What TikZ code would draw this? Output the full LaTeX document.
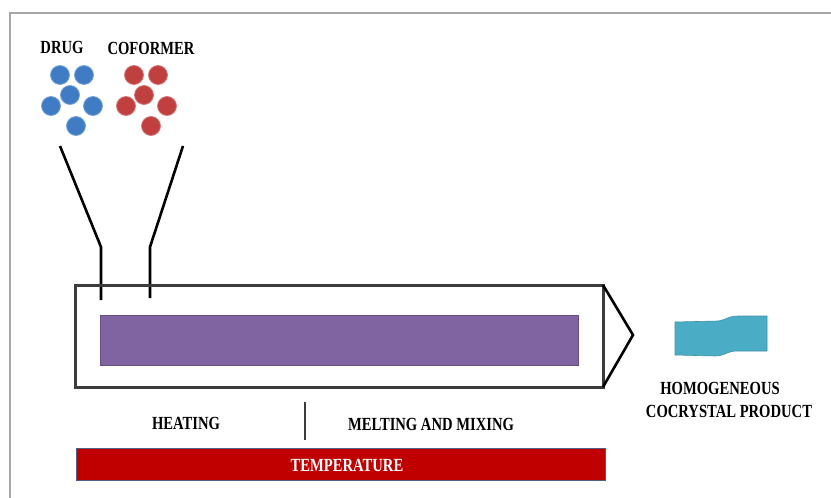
\documentclass[tikz,border=0pt]{standalone}
\usepackage{fontspec}
\setmainfont{Liberation Serif}
\begin{document}
\begin{tikzpicture}[x=1pt,y=-1pt,
  lbl/.style={font=\bfseries\fontsize{18.5}{20}\selectfont, text=black, inner sep=0pt, xscale=0.79},
  drugdot/.style={circle, fill=drugblue, draw=drugblue!70!white, line width=0.8pt, minimum size=19pt, inner sep=0pt},
  cofdot/.style={circle, fill=cofred, draw=cofred!70!white, line width=0.8pt, minimum size=19pt, inner sep=0pt},
  funnel/.style={line width=2.6pt, draw=black},
  barrel/.style={line width=3pt, draw=barrelgray, line join=miter}
]
\definecolor{drugblue}{HTML}{3F7CC4}
\definecolor{cofred}{HTML}{C0403F}
\definecolor{purplebar}{HTML}{8064A2}
\definecolor{redbar}{HTML}{C00000}
\definecolor{framegray}{HTML}{A6A6A6}
\definecolor{barrelgray}{HTML}{3C3C3C}
\definecolor{prodcyan}{HTML}{4BACC6}
\definecolor{tempborder}{HTML}{4F5F8A}
\useasboundingbox (0,0) rectangle (831,498);
% outer frame (top and left only)
\coordinate (fTL) at (10,13);
\coordinate (fTR) at (831,13);
\coordinate (fBL) at (10,498);
\draw[framegray, line width=2pt] (fBL) -- (fTL) -- (fTR);
% labels
\node[lbl] (drug) at (62,47) {DRUG};
\node[lbl] (cof) at (151,48) {COFORMER};
% drug particles
\node[drugdot] (d1) at (60,75) {};
\node[drugdot] (d2) at (84,75) {};
\node[drugdot] (d3) at (70,95) {};
\node[drugdot] (d4) at (51,106) {};
\node[drugdot] (d5) at (93,106) {};
\node[drugdot] (d6) at (76,126) {};
% coformer particles
\node[cofdot] (c1) at (134,75) {};
\node[cofdot] (c2) at (158,75) {};
\node[cofdot] (c3) at (144,95) {};
\node[cofdot] (c4) at (126,106) {};
\node[cofdot] (c5) at (167,106) {};
\node[cofdot] (c6) at (151,126) {};
% funnels
\coordinate (fl1) at (60,146);
\coordinate (fl2) at (101,247);
\coordinate (fl3) at (101,300);
\coordinate (fr1) at (183,146);
\coordinate (fr2) at (150,247);
\coordinate (fr3) at (150,298);
\draw[funnel] (fl1) -- (fl2) -- (fl3);
\draw[funnel] (fr1) -- (fr2) -- (fr3);
% barrel
\coordinate (bTL) at (75,285);
\coordinate (bTR) at (603,285);
\coordinate (bBR) at (603,387);
\coordinate (bBL) at (75,387);
\coordinate (tip) at (633,335);
\draw[barrel] (bTR) -- (bTL) -- (bBL) -- (bBR) -- cycle;
\draw[line width=2.6pt, black, line join=miter] (bTR) -- (tip) -- (bBR);
% purple screw bar
\node[fill=purplebar, draw=purplebar!80!black, line width=0.6pt, minimum width=478pt, minimum height=50pt, inner sep=0pt, anchor=north west] (screw) at (100,315) {};
% product
\fill[prodcyan, draw=prodcyan!85!black, line width=0.6pt] (675,322) -- (718,321) .. controls (726,320) and (728,316) .. (738,316) -- (767,316)
  -- (767,351) -- (735,351) .. controls (726,352) and (724,356) .. (715,356) -- (675,355) -- cycle;
\node[lbl] (homog) at (720,388) {HOMOGENEOUS};
\node[lbl] (cocr) at (729,411) {COCRYSTAL PRODUCT};
% heating / mixing
\node[lbl] (heat) at (186,423) {HEATING};
\node[lbl] (melt) at (431,424) {MELTING AND MIXING};
\coordinate (dv1) at (305,402);
\coordinate (dv2) at (305,440);
\draw[line width=2.6pt, barrelgray] (dv1) -- (dv2);
% temperature bar
\node[fill=redbar, draw=tempborder, line width=1.2pt, minimum width=529pt, minimum height=32pt, inner sep=0pt, anchor=north west] (temp) at (76,448) {};
\node[lbl, text=white] (templbl) at (347,465) {TEMPERATURE};
\end{tikzpicture}
\end{document}
